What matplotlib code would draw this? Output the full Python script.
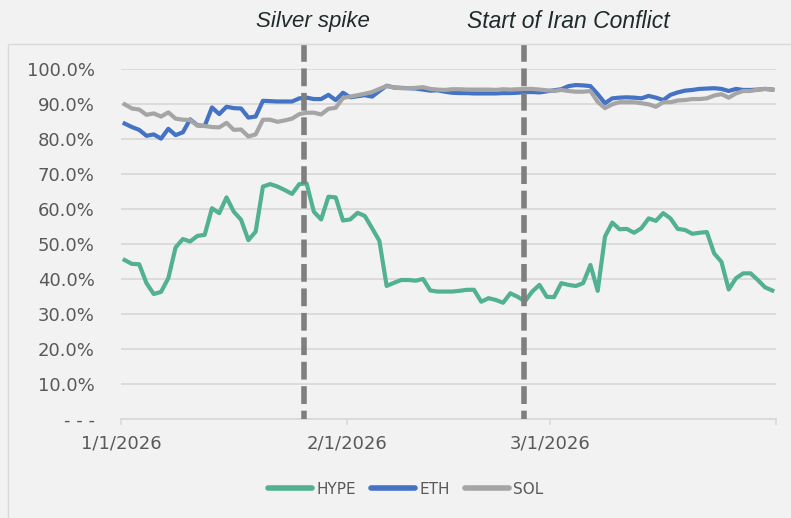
import matplotlib
matplotlib.use("Agg")
import matplotlib.pyplot as plt
import matplotlib.dates as mdates
import pandas as pd
from matplotlib.ticker import FixedLocator, FuncFormatter
from matplotlib.patches import Rectangle

# daily values, Jan 1 - Mar 31 2026 (percent)
days = pd.date_range("2026-01-01", periods=90, freq="D") + pd.Timedelta(hours=12)

hype = [45.5, 44.4, 44.3, 38.9, 35.8, 36.4, 40.3, 49.1, 51.5, 50.8,
        52.4, 52.7, 60.3, 58.9, 63.4, 59.3, 57.0, 51.2, 53.6, 66.5,
        67.2, 66.5, 65.5, 64.4, 67.2, 67.4, 59.3, 57.1, 63.6, 63.4,
        56.8, 57.1, 59.0, 58.1, 54.6, 51.0, 38.1, 39.0, 39.8, 39.8,
        39.6, 40.1, 36.8, 36.5, 36.5, 36.5, 36.7, 37.0, 37.0, 33.6,
        34.6, 34.1, 33.3, 36.0, 35.0, 33.7, 36.5, 38.4, 35.0, 34.9,
        38.9, 38.4, 38.1, 38.9, 44.1, 36.7, 52.2, 56.2, 54.3, 54.4,
        53.3, 54.6, 57.4, 56.7, 58.9, 57.4, 54.4, 54.1, 53.0, 53.3,
        53.5, 47.4, 45.0, 37.1, 40.3, 41.7, 41.7, 39.8, 37.7, 36.8]

eth = [84.5, 83.5, 82.7, 81.0, 81.4, 80.2, 83.0, 81.2, 82.0, 85.7,
       84.0, 83.8, 89.1, 87.2, 89.3, 88.9, 88.8, 86.2, 86.5, 91.0,
       90.9, 90.8, 90.8, 90.8, 91.7, 91.9, 91.5, 91.5, 92.7, 91.2,
       93.3, 92.0, 92.3, 92.6, 92.2, 93.8, 95.3, 94.8, 94.7, 94.6,
       94.5, 94.2, 93.9, 94.0, 93.6, 93.3, 93.2, 93.2, 93.1, 93.1,
       93.1, 93.1, 93.2, 93.2, 93.3, 93.5, 93.5, 93.4, 93.7, 94.0,
       94.3, 95.2, 95.5, 95.4, 95.2, 92.9, 90.3, 91.7, 91.9, 92.0,
       91.9, 91.7, 92.4, 91.9, 91.2, 92.7, 93.4, 93.9, 94.1, 94.4,
       94.5, 94.6, 94.4, 93.8, 94.4, 94.1, 94.1, 94.2, 94.4, 94.2]

sol = [90.0, 88.8, 88.5, 87.0, 87.4, 86.5, 87.7, 85.9, 85.6, 85.5,
       83.9, 83.8, 83.5, 83.4, 84.7, 82.7, 82.8, 80.8, 81.4, 85.6,
       85.6, 85.0, 85.4, 85.9, 87.2, 87.6, 87.6, 87.1, 88.7, 89.0,
       91.8, 92.2, 92.6, 93.0, 93.5, 94.4, 95.2, 94.8, 94.6, 94.6,
       94.7, 94.9, 94.4, 94.2, 94.1, 94.3, 94.3, 94.2, 94.2, 94.2,
       94.2, 94.1, 94.3, 94.2, 94.3, 94.4, 94.4, 94.2, 94.0, 93.8,
       94.1, 93.8, 93.6, 93.6, 93.8, 90.7, 88.9, 90.0, 90.6, 90.6,
       90.6, 90.3, 90.0, 89.3, 90.6, 90.6, 91.1, 91.2, 91.5, 91.5,
       91.7, 92.5, 92.9, 91.9, 93.1, 93.8, 93.8, 94.2, 94.4, 94.2]

event_dates = [pd.Timestamp("2026-01-26 02:00"), pd.Timestamp("2026-02-25 09:00")]
event_labels = ["Silver spike", "Start of Iran Conflict"]

x_ticks = pd.to_datetime(["2026-01-01", "2026-02-01", "2026-03-01", "2026-04-01"])
x_labels = ["1/1/2026", "2/1/2026", "3/1/2026", ""]
y_ticks = [0, 10, 20, 30, 40, 50, 60, 70, 80, 90, 100]

bg = "#f2f2f2"
grid_c = "#d9d9d9"
txt_c = "#595959"

plt.rcParams["font.family"] = ["DejaVu Sans"]

fig = plt.figure(figsize=(7.91, 5.18), dpi=100, facecolor=bg)
ax = fig.add_axes([121 / 791, 98.7 / 518, 655 / 791, 350 / 518], facecolor=bg)

# outer chart border (only top/left visible in the crop)
fig.patches.append(Rectangle((8 / 791, -0.1), 1.2, 1.1 - 44 / 518, transform=fig.transFigure,
                             fill=False, edgecolor=grid_c, lw=1.0))

ax.plot(days, hype, color="#52b192", lw=3.0, label="HYPE", solid_joinstyle="round")
ax.plot(days, eth, color="#4472c4", lw=3.0, label="ETH", solid_joinstyle="round")
ax.plot(days, sol, color="#a5a5a5", lw=3.0, label="SOL", solid_joinstyle="round")

top = (419.3 - 44) / 350
ax.vlines(mdates.date2num(event_dates), top, 0, transform=ax.get_xaxis_transform(),
          colors="#7f7f7f", lw=4.0, linestyles=[(0, (3.2, 1.2))], clip_on=False, zorder=5)

fig.text(313 / 791, 1 - 21 / 518, event_labels[0], ha="center", va="center",
         style="italic", fontsize=16, color="#1f2b2b", family="Liberation Sans")
fig.text(568 / 791, 1 - 21 / 518, event_labels[1], ha="center", va="center",
         style="italic", fontsize=16.5, color="#1f2b2b", family="Liberation Sans")

ax.set_xlim(x_ticks[0], x_ticks[-1])
ax.set_ylim(0, 100)
ax.xaxis.set_major_locator(FixedLocator(mdates.date2num(x_ticks)))
ax.set_xticklabels(x_labels)
ax.set_yticks(y_ticks)
ax.yaxis.set_major_formatter(FuncFormatter(lambda v, p: "- - -" if v == 0 else f"{v:.1f}%"))

ax.grid(axis="y", color=grid_c, lw=1.3)
ax.set_axisbelow(True)
for s in ["top", "right", "left"]:
    ax.spines[s].set_visible(False)
ax.spines["bottom"].set_color(grid_c)
ax.spines["bottom"].set_linewidth(1.3)
ax.tick_params(axis="y", length=0, pad=19, labelsize=13, labelcolor=txt_c)
ax.tick_params(axis="x", length=4, width=1.1, color=grid_c, pad=7, labelsize=13, labelcolor=txt_c)

leg = fig.legend(loc="center", bbox_to_anchor=(406 / 791, 1 - 489 / 518), ncol=3, frameon=False,
                 fontsize=11, handlelength=2.85, handletextpad=0.3, columnspacing=1.0)
for t in leg.get_texts():
    t.set_color(txt_c)
for h in leg.get_lines():
    h.set_linewidth(4)
    h.set_solid_capstyle("round")

fig.savefig("out.png", dpi=100, facecolor=bg)
